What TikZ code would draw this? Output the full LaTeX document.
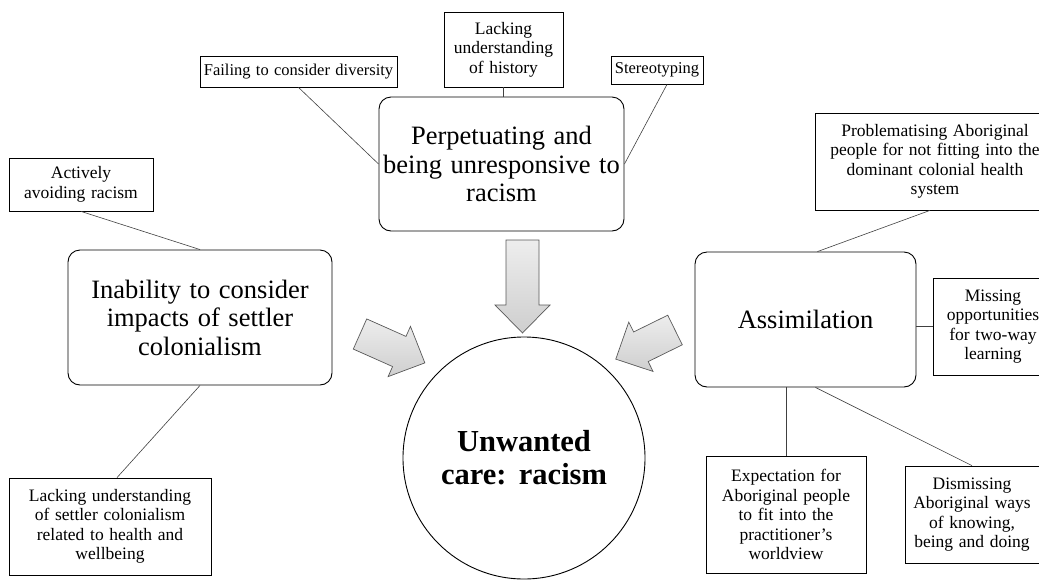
\documentclass[tikz,border=0pt]{standalone}
\usepackage{fontspec}
\setmainfont{Liberation Serif}[WordSpace=1.3]
\usepackage{tikz}
\usetikzlibrary{positioning, calc}

\newcommand{\blockarrow}[4]{%
  \begin{scope}[shift={(#1,#2)}, rotate=#3]
    \shade[blockarr] (0,-16.5) -- ({#4-28},-16.5) -- ({#4-28},-27.5) -- (#4,0)
      -- ({#4-28},27.5) -- ({#4-28},16.5) -- (0,16.5) -- cycle;
  \end{scope}}

\begin{document}
\begin{tikzpicture}[x=1pt, y=-1pt,
  bigbox/.style={draw, rounded corners=12pt, line width=0.9pt, align=center, inner sep=0pt,
    font=\fontsize{26.5}{28.5}\selectfont},
  smallbox/.style={draw, line width=0.8pt, align=center, inner sep=0pt,
    font=\fontsize{17.5}{19.5}\selectfont},
  link/.style={line width=0.6pt, black!75},
  blockarr/.style={top color=gray!14, bottom color=gray!38, draw=black!65, line width=0.7pt}]
\useasboundingbox (0,0) rectangle (1039,579);

\node[bigbox, minimum width=245pt, minimum height=134pt] (perp) at (501.5,164) {Perpetuating and\\being unresponsive to\\racism};
\node[bigbox, minimum width=264pt, minimum height=135pt] (inab) at (200,317.5) {Inability to consider\\impacts of settler\\colonialism};
\node[bigbox, minimum width=221pt, minimum height=135pt] (assim) at (805.5,319.5) {Assimilation};
\node[circle, draw, line width=0.9pt, minimum size=242pt, align=center, inner sep=0pt,
  font=\fontsize{30.5}{33}\selectfont\bfseries] (care) at (524,458) {Unwanted\\care: racism};

\node[smallbox, minimum width=197pt, minimum height=31pt, font=\fontsize{16.5}{18}\selectfont] (divers) at (298.5,71.5) {Failing to consider diversity};
\node[smallbox, minimum width=119pt, minimum height=75pt] (history) at (503.5,49.5) {Lacking\\understanding\\of history};
\node[smallbox, minimum width=92pt, minimum height=28pt, font=\fontsize{16.5}{18}\selectfont] (stereo) at (657,70) {Stereotyping};
\node[smallbox, minimum width=144pt, minimum height=53pt] (avoid) at (81,184.5) {Actively\\avoiding racism};
\node[smallbox, minimum width=202pt, minimum height=97pt] (settler) at (110,526.5) {Lacking understanding\\of settler colonialism\\related to health and\\wellbeing};
\node[smallbox, minimum width=240pt, minimum height=97pt] (problem) at (935,161.5) {Problematising Aboriginal\\people for not fitting into the\\dominant colonial health\\system};
\node[smallbox, minimum width=120pt, minimum height=97pt] (missing) at (993,326.5) {Missing\\opportunities\\for two-way\\learning};
\node[smallbox, minimum width=160pt, minimum height=117pt] (expect) at (786,514.5) {Expectation for\\Aboriginal people\\to fit into the\\practitioner’s\\worldview};
\node[smallbox, minimum width=134pt, minimum height=97pt] (dismiss) at (972,514.5) {Dismissing\\Aboriginal ways\\of knowing,\\being and doing};

\draw[link] (divers.south) -- (perp.west);
\draw[link] (history.south) -- (history.south |- perp.north);
\draw[link] ([xshift=10pt]stereo.south) -- (perp.east);
\draw[link] (avoid.south) -- (inab.north);
\draw[link] (inab.south) -- ([xshift=7pt]settler.north);
\draw[link] ([xshift=-5pt]problem.south) -- ([xshift=12pt]assim.north);
\draw[link] (assim.east |- missing.west) -- (missing.west);
\draw[link] (expect.north |- assim.south) -- (expect.north);
\draw[link] ([xshift=10pt]assim.south) -- (dismiss.north);

\blockarrow{522.5}{240}{-90}{93}
\blockarrow{360}{334}{-24}{71}
\blockarrow{675}{330}{-153.8}{66}
\end{tikzpicture}
\end{document}
